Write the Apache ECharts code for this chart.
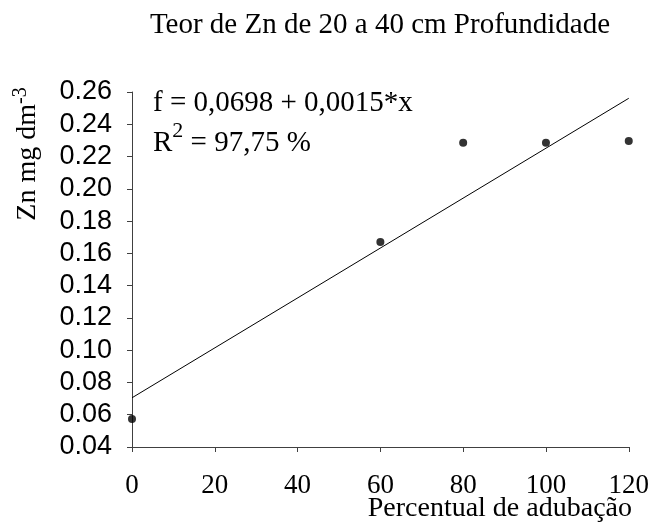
<!DOCTYPE html>
<html>
<head>
<meta charset="utf-8">
<script src="https://cdn.jsdelivr.net/npm/echarts@6/dist/echarts.min.js"></script>
<style>html,body{margin:0;padding:0;background:#fff}#c{width:652px;height:522px}</style>
</head>
<body>
<div id="c"></div>
<script>
var titleText = 'Teor de Zn de 20 a 40 cm Profundidade';
var xName = 'Percentual de adubação';
var yNameMain = 'Zn mg dm';
var yNameSup = '-3';
var xValues = [0, 60, 80, 100, 120];
var yValues = [0.0573, 0.1671, 0.2285, 0.2285, 0.2297];
var fitX = [0, 120];
var fitY = [0.0705, 0.2561];
var equationText = 'f = 0,0698 + 0,0015*x';
var r2Text = ' = 97,75 %';
var yTicks = { min: 0.04, max: 0.26, interval: 0.02 };
var xTicks = { min: 0, max: 120, interval: 20 };

var serif = '"Liberation Serif", "Times New Roman", serif';
var sans = '"Liberation Sans", Arial, sans-serif';

var chart = echarts.init(document.getElementById('c'), null, { renderer: 'canvas' });
chart.setOption({
  animation: false,
  backgroundColor: '#fff',
  grid: { left: 132, right: 23, top: 92, bottom: 75 },
  xAxis: {
    type: 'value', min: xTicks.min, max: xTicks.max, interval: xTicks.interval,
    axisLine: { show: true, onZero: false, lineStyle: { color: '#404040', width: 1 } },
    axisTick: { show: true, inside: false, length: 5, lineStyle: { color: '#404040' } },
    axisLabel: { margin: 25, fontFamily: serif, fontSize: 27, color: '#000' },
    splitLine: { show: false }
  },
  yAxis: {
    type: 'value', min: yTicks.min, max: yTicks.max, interval: yTicks.interval,
    axisLine: { show: true, onZero: false, lineStyle: { color: '#404040', width: 1 } },
    axisTick: { show: true, inside: false, length: 5, lineStyle: { color: '#404040' } },
    axisLabel: { margin: 20, fontFamily: sans, fontSize: 27, color: '#000',
      formatter: function (v) { return v.toFixed(2); } },
    splitLine: { show: false }
  },
  series: [
    {
      type: 'line', data: fitX.map(function (x, i) { return [x, fitY[i]]; }),
      showSymbol: false, symbol: 'none',
      lineStyle: { color: '#000', width: 1 }, z: 2
    },
    {
      type: 'scatter', data: xValues.map(function (x, i) { return [x, yValues[i]]; }),
      symbol: 'circle', symbolSize: 8, itemStyle: { color: '#000' }, z: 3
    }
  ],
  graphic: [
    {
      type: 'text', x: 380, y: 25.5,
      style: { text: titleText, align: 'center', verticalAlign: 'middle',
        font: '29px ' + serif, fill: '#000' }
    },
    {
      type: 'text', x: 27.5, y: 154, rotation: Math.PI / 2,
      style: {
        text: '{a|' + yNameMain + '}{s|' + yNameSup + '}', align: 'center', verticalAlign: 'middle',
        rich: {
          a: { fontFamily: serif, fontSize: 28, lineHeight: 34, fill: '#000' },
          s: { fontFamily: serif, fontSize: 20, lineHeight: 20, verticalAlign: 'top', fill: '#000' }
        }
      }
    },
    {
      type: 'text', x: 632, y: 508.5,
      style: { text: xName, align: 'right', verticalAlign: 'middle',
        font: '28px ' + serif, fill: '#000' }
    },
    {
      type: 'text', x: 153, y: 103,
      style: { text: equationText, align: 'left', verticalAlign: 'middle',
        font: '29px ' + serif, fill: '#000' }
    },
    {
      type: 'text', x: 153, y: 143.5,
      style: {
        text: '{a|R}{s|2}{a|' + r2Text + '}', align: 'left', verticalAlign: 'middle',
        rich: {
          a: { fontFamily: serif, fontSize: 29, lineHeight: 46, fill: '#000' },
          s: { fontFamily: serif, fontSize: 22, lineHeight: 22, verticalAlign: 'top', fill: '#000' }
        }
      }
    }
  ]
});
</script>
</body>
</html>
